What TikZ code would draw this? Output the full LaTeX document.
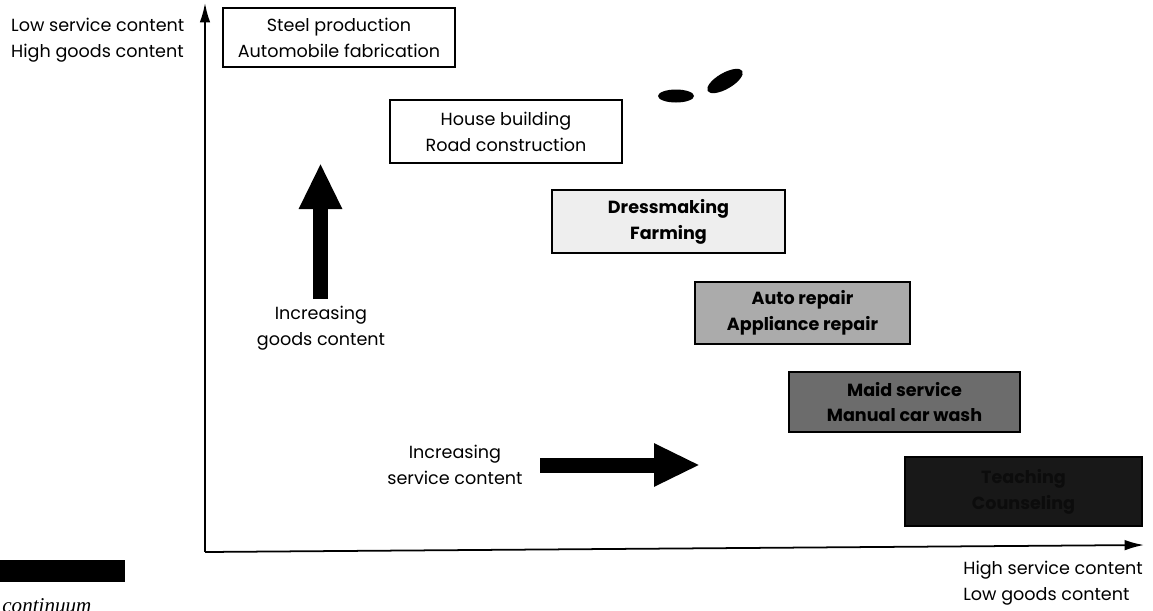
\documentclass[tikz,border=0pt]{standalone}
\usepackage{fontspec}
\setmainfont{Poppins}
\newfontfamily\capfont{Liberation Serif}
\usetikzlibrary{arrows.meta,positioning,calc}
\definecolor{greya}{HTML}{EEEEEE}
\definecolor{greyb}{HTML}{ABABAB}
\definecolor{greyc}{HTML}{6C6C6C}
\definecolor{greyd}{HTML}{181818}
\definecolor{greyt}{HTML}{0C0C0C}

\begin{document}
\fontsize{10}{14.7}\selectfont
\begin{tikzpicture}[
            box/.style={draw=black,line width=0.8pt,align=center,inner sep=0pt},
            axis/.style={line width=1pt,-{Latex[length=11pt,width=6pt]}},
            fat/.style={line width=0.3cm,-{Triangle[length=0.92cm,width=0.8cm]}}]
          \useasboundingbox (0,0) rectangle (23.06,-12.2);
          % axes
          \coordinate (origin) at (4.1,-11.04);
          \coordinate (ytop) at (4.1,-0.06);
          \coordinate (xend) at (22.88,-10.9);
          \draw[axis] (origin) -- (ytop);
          \draw[axis] (origin) -- (xend);
          \node[anchor=west,align=left] (ylab) at (0.1,-0.8) {Low service content\\High goods content};
          \node[anchor=east,align=left] (xlab) at (22.98,-11.66) {High service content\\Low goods content};
          % goods to services
          \foreach \n/\x/\y/\w/\h/\c/\t/\f/\lab in {
              steel/6.78/-0.75/4.64/1.18/white/black/\relax/{Steel production\\Automobile fabrication},
              house/10.12/-2.63/4.64/1.26/white/black/\relax/{House building\\Road construction},
              dress/13.37/-4.43/4.66/1.26/greya/black/\bfseries/{Dressmaking\\Farming},
              auto/16.05/-6.26/4.3/1.24/greyb/black/\bfseries/{Auto repair\\Appliance repair},
              maid/18.09/-8.04/4.62/1.2/greyc/black/\bfseries/{Maid service\\Manual car wash},
              teach/20.47/-9.83/4.74/1.38/greyd/greyt/\bfseries/{Teaching\\Counseling}}{
            \node[box,fill=\c,text=\t,font=\f,minimum width=\w cm,minimum height=\h cm] (\n) at (\x,\y) {\lab};}
          % fat arrows
          \node[align=center] (goods) at (6.42,-6.57) {Increasing\\goods content};
          \coordinate (g0) at (6.41,-5.98);
          \coordinate (g1) at (6.41,-3.26);
          \draw[fat] (g0) -- (g1);
          \node[align=center] (serv) at (9.1,-9.3) {Increasing\\service content};
          \coordinate (s0) at (10.8,-9.3);
          \coordinate (s1) at (14.0,-9.3);
          \draw[fat] (s0) -- (s1);
          % scan leftovers
          \fill (13.52,-1.92) ellipse (0.36 and 0.13);
          \fill[rotate around={30:(14.5,-1.62)}] (14.5,-1.62) ellipse (0.4 and 0.16);
          \fill (0,-11.2) rectangle (2.5,-11.64);
          \node[anchor=north west,inner sep=0pt,font=\capfont\itshape\fontsize{12}{14}\selectfont] (cap) at (0.04,-11.96) {continuum};
        \end{tikzpicture}
\end{document}
